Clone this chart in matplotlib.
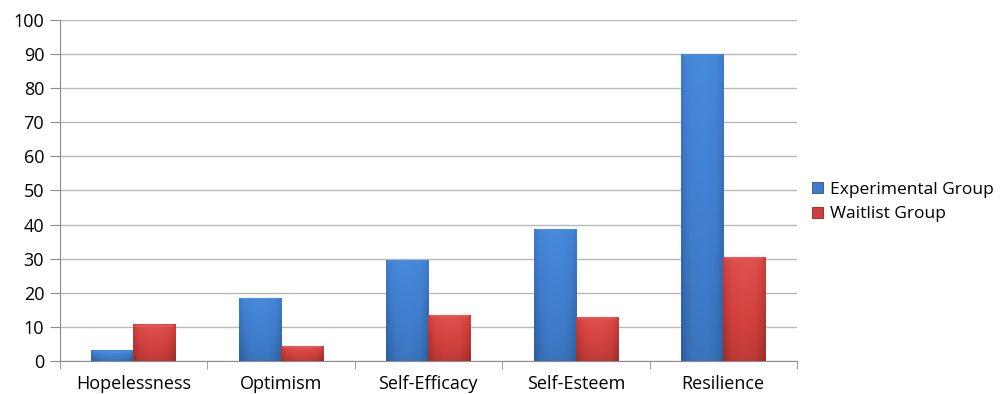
import numpy as np
import matplotlib.pyplot as plt
from matplotlib.colors import LinearSegmentedColormap

categories = ["Hopelessness", "Optimism", "Self-Efficacy", "Self-Esteem", "Resilience"]
experimental = [3.1, 18.6, 29.7, 38.7, 90.1]
waitlist = [10.7, 4.3, 13.4, 13.0, 30.4]
series_names = ["Experimental Group", "Waitlist Group"]

plt.rcParams['font.family'] = ['Open Sans', 'DejaVu Sans']

fig = plt.figure(figsize=(10, 3.94), dpi=100)
ax = fig.add_axes([0.0595, 0.084, 0.7375, 0.865])

width = 0.2857
x = np.arange(len(categories))

# light -> dark shading for each series, used to fake the bevelled look
blue_cmap = LinearSegmentedColormap.from_list("b", ["#4a8ee0", "#3f7dcc", "#2f5f9f"])
red_cmap = LinearSegmentedColormap.from_list("r", ["#e85a57", "#cf403d", "#9e2e2c"])
grad = np.linspace(0, 1, 64).reshape(-1, 1) * np.ones((1, 16))
side = np.abs(np.linspace(-1, 1, 16)) ** 3
grad = np.clip(0.15 + grad * 0.5 + side[None, :] * 0.35, 0, 1)


def shaded_bars(xs, vals, cmap, edge):
    bars = ax.bar(xs, vals, width, color=cmap(0.4), edgecolor=edge, linewidth=0.6, zorder=3)
    for b in bars:
        x0, y0 = b.get_x(), b.get_y()
        w, h = b.get_width(), b.get_height()
        im = ax.imshow(grad[::-1], cmap=cmap, vmin=0, vmax=1, aspect='auto',
                       extent=[x0, x0 + w, y0, y0 + h], origin='lower', zorder=3.5)
        im.set_clip_path(b)
        # thin highlight along the top edge
        ax.plot([x0 + w * 0.05, x0 + w * 0.95], [y0 + h - 0.35, y0 + h - 0.35],
                color=cmap(0.0), lw=1.5, alpha=0.8, zorder=4, solid_capstyle='butt')
    return bars


b1 = shaded_bars(x - width / 2, experimental, blue_cmap, "#2a5490")
b2 = shaded_bars(x + width / 2, waitlist, red_cmap, "#8e2624")

ax.set_xlim(-0.5, len(categories) - 0.5)
ax.set_ylim(0, 100)
ax.set_yticks(range(0, 101, 10))
ax.set_xticks(x)
ax.set_xticklabels(categories)
ax.set_xticks(np.arange(-0.5, len(categories)), minor=True)
ax.tick_params(axis='x', which='major', length=0, pad=10, labelsize=13)
ax.tick_params(axis='x', which='minor', length=6, color='#8c8c8c', direction='out')
ax.tick_params(axis='y', length=7, color='#8c8c8c', labelsize=13, pad=4)
ax.yaxis.grid(True, color='#b8b8b8', linewidth=1)
ax.set_axisbelow(True)
for s in ['top', 'right']:
    ax.spines[s].set_visible(False)
for s in ['left', 'bottom']:
    ax.spines[s].set_color('#8c8c8c')

leg = fig.legend([b1[0], b2[0]], series_names, loc='center left',
                 bbox_to_anchor=(0.812, 0.487), frameon=False, fontsize=12.5,
                 handlelength=0.65, handleheight=0.65, handletextpad=0.4,
                 labelspacing=0.5, borderpad=0, borderaxespad=0)
for h, c in zip(leg.legend_handles, ["#3f7dcc", "#cf403d"]):
    h.set_facecolor(c)

fig.savefig("out.png", dpi=100)
